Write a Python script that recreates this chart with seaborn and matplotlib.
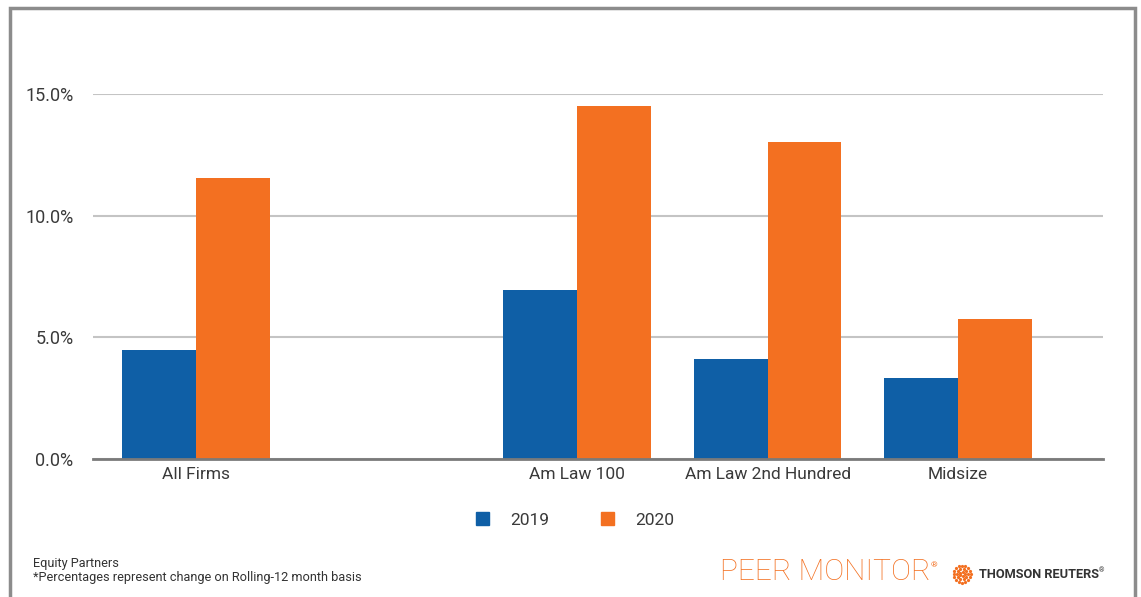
import matplotlib
matplotlib.use("Agg")
import matplotlib.pyplot as plt
import matplotlib.patches as mpatches
import numpy as np
import pandas as pd
import seaborn as sns

sns.set_theme(style="white")
plt.rcParams["font.family"] = ["Roboto", "DejaVu Sans"]

# data
categories = ["All Firms", "Am Law 100", "Am Law 2nd Hundred", "Midsize"]
order = ["All Firms", " ", "Am Law 100", "Am Law 2nd Hundred", "Midsize"]
years = ["2019", "2020"]
values_2019 = [4.48, 6.95, 4.11, 3.34]
values_2020 = [11.55, 14.5, 13.03, 5.77]
yticks = [0, 5, 10, 15]
ytick_labels = ["0.0%", "5.0%", "10.0%", "15.0%"]

colors = {"2019": "#0F5FA6", "2020": "#F37021"}

df = pd.DataFrame({
    "category": categories * 2,
    "year": ["2019"] * len(categories) + ["2020"] * len(categories),
    "value": values_2019 + values_2020,
})

fig = plt.figure(figsize=(11.41, 5.97), dpi=100)
ax = fig.add_axes([93 / 1141, 1 - 459 / 597, (1103 - 93) / 1141, (459 - 94) / 597])

sns.barplot(data=df, x="category", y="value", hue="year", order=order,
            hue_order=years, palette=colors, width=0.775, saturation=1,
            linewidth=0, legend=False, ax=ax)

ax.set_xlim(-0.54, 4.76)
ax.set_ylim(0, 15)
ax.set_yticks(yticks)
ax.set_yticklabels(ytick_labels)
ax.set_xlabel("")
ax.set_ylabel("")
for sp in ["top", "right", "left"]:
    ax.spines[sp].set_visible(False)
ax.spines["bottom"].set_color("#7a7a7a")
ax.spines["bottom"].set_linewidth(2)
ax.spines["bottom"].set_zorder(5)
ax.set_axisbelow(True)
ax.yaxis.grid(True, color="#c4c4c4", linewidth=1.5)
ax.tick_params(axis="y", length=0, pad=14, labelsize=13, labelcolor="#3a3a3a")
ax.tick_params(axis="x", length=0, pad=6, labelsize=12.5, labelcolor="#3a3a3a")

handles = [mpatches.Patch(color=colors[y], label=y) for y in years]
fig.legend(handles=handles, loc="center", bbox_to_anchor=(575 / 1141, 1 - 520 / 597),
           ncol=2, frameon=False, fontsize=12.5, handlelength=0.75, handleheight=0.75,
           handletextpad=1.2, columnspacing=3.0, labelcolor="#3a3a3a")

# footnote
fig.text(33 / 1141, 1 - 563 / 597, "Equity Partners", fontsize=9.2, color="#333333", va="center")
fig.text(33 / 1141, 1 - 578 / 597, "*Percentages represent change on Rolling-12 month basis",
         fontsize=9.2, color="#333333", va="center")

# branding
fig.text(720 / 1141, 1 - 572 / 597, "PEER MONITOR", fontsize=21.5, color="#F37021",
         fontweight="light", va="center")
fig.text(931 / 1141, 1 - 565 / 597, "®", fontsize=6, color="#F37021", va="center")
ring_x = 962 / 1141
ring_y = 1 - 574 / 597
for r, n in [(2.5, 5), (5.5, 10), (8.5, 16)]:
    ang = np.linspace(0, 2 * np.pi, n, endpoint=False)
    fig.add_artist(plt.Line2D(ring_x + r * np.cos(ang) / 1141, ring_y + r * np.sin(ang) / 597,
                              linestyle="none", marker="o", markersize=1.3,
                              color="#F37021", transform=fig.transFigure))
fig.text(979 / 1141, 1 - 574 / 597, "THOMSON REUTERS", fontsize=9.2, color="#333333",
         fontweight="bold", va="center")
fig.text(1099 / 1141, 1 - 571 / 597, "®", fontsize=5, color="#333333", va="center")

# outer frame
fig.add_artist(mpatches.Rectangle((10 / 1141, -0.05), (1135 - 10) / 1141, 1.05 - 8 / 597,
                                  transform=fig.transFigure, fill=False,
                                  edgecolor="#8c8c8c", linewidth=2.5))

fig.savefig("out.png", dpi=100)
